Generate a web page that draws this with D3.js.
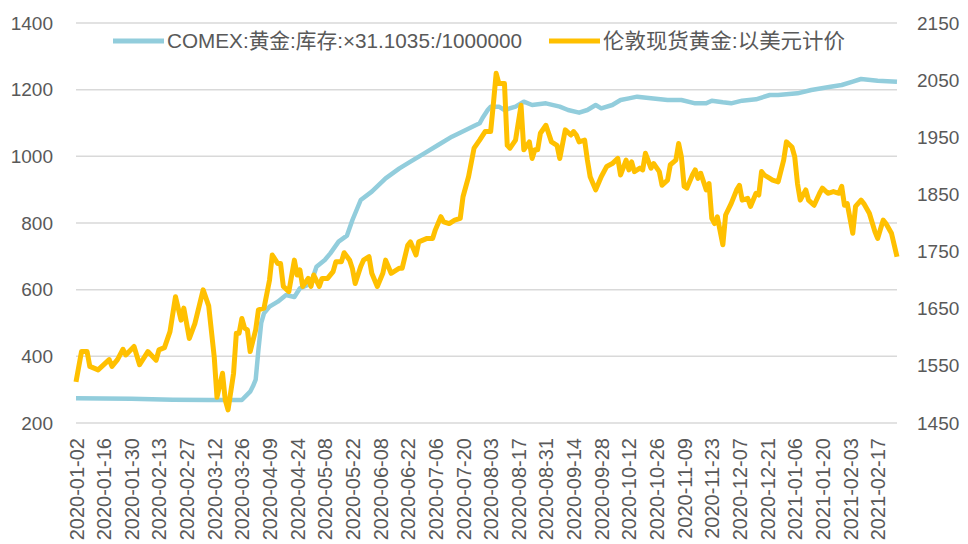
<!DOCTYPE html>
<meta charset="utf-8">
<script src="https://cdn.jsdelivr.net/npm/d3@7"></script>
<style>
  body { margin: 0; background: #fff; }
  text { font-family: "Liberation Sans", "Noto Sans CJK SC", sans-serif; fill: #595959; }
  .grid line { stroke: #d9d9d9; stroke-width: 1.5; }
</style>
<body>
<script>

// trading-day index (category position) and value
var comexStock = [
  [0,274],[20,273],[35,270],[48,269],[60,269],[63,294],[64,310],[65,330],[66,420],[67,500],
  [68,529],[70,549],[73,564],[76,584],[79,578],[81,604],[85,619],[87,669],[90,689],[92,709],
  [95,744],[98,762],[100,809],[103,869],[107,894],[112,934],[117,964],[121,984],[126,1009],
  [131,1034],[136,1059],[141,1079],[146,1099],[147,1114],[149,1140],[150,1149],[153,1149],
  [155,1139],[159,1149],[162,1164],[165,1154],[170,1159],[175,1149],[178,1139],[182,1131],
  [185,1139],[188,1154],[190,1144],[194,1154],[197,1169],[200,1174],[203,1179],[208,1174],
  [214,1169],[219,1169],[224,1159],[228,1159],[230,1167],[234,1162],[237,1159],[241,1167],
  [246,1171],[251,1184],[254,1184],[261,1189],[266,1199],[273,1209],[277,1214],[281,1224],
  [284,1232],[290,1227],[297,1224]
];

var londonGold = [
  [0,1522],[2,1575],[4,1575],[5,1549],[8,1543],[12,1561],[13,1549],[15,1561],[17,1579],[18,1569],
  [21,1584],[23,1552],[26,1575],[29,1560],[30,1578],[32,1582],[34,1610],[36,1671],[38,1630],[39,1651],
  [41,1598],[43,1624],[46,1683],[48,1655],[50,1566],[51,1495],[53,1537],[54,1490],[55,1473],[57,1537],
  [58,1607],[59,1607],[60,1633],[61,1616],[62,1613],[63,1575],[65,1613],[66,1648],[68,1651],[70,1700],
  [71,1744],[73,1729],[74,1729],[75,1689],[77,1680],[79,1735],[80,1709],[81,1718],[82,1689],[84,1703],
  [85,1689],[86,1709],[88,1689],[89,1703],[91,1703],[93,1715],[94,1732],[96,1732],[97,1748],[99,1735],
  [100,1720],[101,1694],[103,1724],[104,1735],[106,1741],[107,1712],[109,1689],[111,1712],[112,1735],[114,1712],
  [117,1721],[118,1721],[120,1761],[121,1767],[123,1744],[124,1767],[127,1773],[129,1773],[130,1788],[132,1811],
  [133,1802],[135,1799],[137,1805],[139,1808],[140,1846],[142,1881],[144,1931],[146,1945],[148,1960],[150,1960],
  [151,2009],[152,2062],[153,2044],[155,2044],[156,1936],[157,1931],[159,1945],[161,2006],[162,1928],[164,1942],
  [165,1913],[166,1928],[167,1928],[168,1957],[170,1971],[172,1942],[174,1936],[175,1913],[177,1963],[179,1954],
  [180,1960],[181,1954],[182,1942],[184,1945],[185,1910],[186,1881],[188,1858],[190,1881],[192,1899],[194,1904],
  [196,1913],[197,1884],[199,1910],[200,1893],[201,1907],[202,1890],[204,1896],[205,1893],[206,1922],[208,1896],
  [209,1904],[211,1890],[212,1866],[214,1875],[215,1902],[217,1910],[218,1939],[219,1916],[220,1864],[221,1861],
  [223,1884],[224,1893],[225,1878],[226,1887],[228,1858],[229,1869],[230,1808],[231,1799],[232,1811],[234,1762],
  [235,1814],[237,1834],[239,1858],[240,1866],[241,1840],[243,1843],[244,1829],[246,1852],[247,1849],[248,1890],
  [249,1884],[251,1878],[252,1875],[254,1872],[256,1910],[257,1942],[259,1933],[260,1916],[261,1869],[262,1840],
  [264,1858],[265,1840],[267,1831],[269,1852],[270,1861],[272,1852],[274,1855],[276,1852],[277,1864],[278,1831],
  [279,1834],[281,1782],[282,1829],[284,1840],[285,1834],[287,1817],[289,1785],[290,1773],[292,1805],[293,1799],
  [295,1782],[297,1741]
];

// one label every 10 trading days
var dateLabels = [
  "2020-01-02","2020-01-16","2020-01-30","2020-02-13","2020-02-27","2020-03-12","2020-03-26",
  "2020-04-09","2020-04-24","2020-05-08","2020-05-22","2020-06-08","2020-06-22","2020-07-06",
  "2020-07-20","2020-08-03","2020-08-17","2020-08-31","2020-09-14","2020-09-28","2020-10-12",
  "2020-10-26","2020-11-09","2020-11-23","2020-12-07","2020-12-21","2021-01-06","2021-01-20",
  "2021-02-03","2021-02-17"
];

var leftTicks = [200, 400, 600, 800, 1000, 1200, 1400];
var rightTicks = [1450, 1550, 1650, 1750, 1850, 1950, 2050, 2150];

var seriesNames = ["COMEX:黄金:库存:×31.1035:/1000000", "伦敦现货黄金:以美元计价"];
var seriesColors = ["#92cddc", "#ffc000"];

var W = 968, H = 544;
var margin = {top: 23, right: 71, bottom: 121, left: 76},
    width = W - margin.left - margin.right,
    height = H - margin.top - margin.bottom;

var svg = d3.select("body").append("svg")
    .attr("width", W)
    .attr("height", H);

var g = svg.append("g")
    .attr("transform", "translate(" + margin.left + "," + margin.top + ")");

var x = d3.scaleLinear().domain([0, 297]).range([0, width]);
var yL = d3.scaleLinear().domain([200, 1400]).range([height, 0]);
var yR = d3.scaleLinear().domain([1450, 2150]).range([height, 0]);

// gridlines
g.append("g").attr("class", "grid")
  .selectAll("line")
  .data(leftTicks)
  .enter().append("line")
    .attr("x1", 0)
    .attr("x2", width)
    .attr("y1", d => yL(d))
    .attr("y2", d => yL(d));

// left axis labels
var leftAxis = g.append("g")
    .call(d3.axisLeft(yL).tickValues(leftTicks).tickFormat(d3.format("d")).tickSize(0).tickPadding(23));
leftAxis.select(".domain").remove();
leftAxis.selectAll("text").style("font-size", "19px").style("fill", "#595959");

// right axis labels
var rightAxis = g.append("g")
    .attr("transform", "translate(" + width + ",0)")
    .call(d3.axisRight(yR).tickValues(rightTicks).tickFormat(d3.format("d")).tickSize(0).tickPadding(20));
rightAxis.select(".domain").remove();
rightAxis.selectAll("text").style("font-size", "19px").style("fill", "#595959");

// bottom axis: rotated date labels
var xAxis = g.append("g")
    .attr("transform", "translate(0," + height + ")")
    .call(d3.axisBottom(x)
      .tickValues(dateLabels.map((d, i) => i * 10))
      .tickFormat((d, i) => dateLabels[i])
      .tickSize(0));
xAxis.select(".domain").remove();
xAxis.selectAll("text")
    .attr("transform", "rotate(-90)")
    .attr("x", -15)
    .attr("y", 0)
    .attr("dy", "0.35em")
    .style("text-anchor", "end")
    .style("font-size", "20px")
    .style("fill", "#595959");

// lines
var lineL = d3.line().x(d => x(d[0])).y(d => yL(d[1]));
var lineR = d3.line().x(d => x(d[0])).y(d => yR(d[1]));

g.append("path")
    .datum(comexStock)
    .attr("fill", "none")
    .attr("stroke", seriesColors[0])
    .attr("stroke-width", 4.5)
    .attr("stroke-linejoin", "round")
    .attr("d", lineL);

g.append("path")
    .datum(londonGold)
    .attr("fill", "none")
    .attr("stroke", seriesColors[1])
    .attr("stroke-width", 5)
    .attr("stroke-linejoin", "round")
    .attr("d", lineR);

// legend
var legendItems = [
  {x: 113, len: 355, name: seriesNames[0], color: seriesColors[0]},
  {x: 549, len: 242, name: seriesNames[1], color: seriesColors[1]}
];
var legend = svg.append("g").selectAll("g")
    .data(legendItems)
    .enter().append("g")
      .attr("transform", d => "translate(" + d.x + ",41)");

legend.append("line")
    .attr("x1", 0).attr("x2", 51)
    .attr("stroke", d => d.color)
    .attr("stroke-width", 5);

legend.append("text")
    .attr("x", 54)
    .attr("dy", "0.35em")
    .attr("textLength", d => d.len)
    .attr("lengthAdjust", "spacingAndGlyphs")
    .style("font-size", "21px")
    .text(d => d.name);

</script>
</body>
